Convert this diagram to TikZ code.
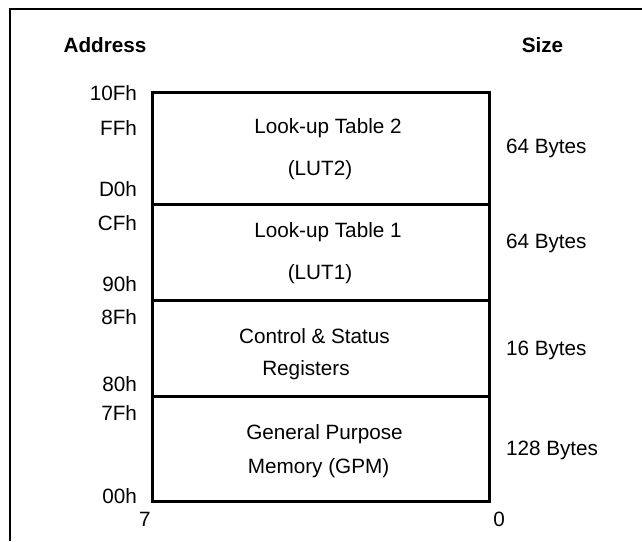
\documentclass[tikz,border=0pt]{standalone}
\usepackage{fontspec}
\setmainfont{Liberation Sans}
\begin{document}
\begin{tikzpicture}[x=1pt,y=-1pt,
  every node/.style={inner sep=0pt, outer sep=0pt, font=\fontsize{20.7}{24}\selectfont},
  region/.style={draw, line width=3pt, minimum width=337pt, anchor=north west},
  head/.style={anchor=base, font=\fontsize{20.7}{24}\selectfont\bfseries},
  addr/.style={anchor=base east},
  size/.style={anchor=base west},
  label/.style={anchor=base},
  frame/.style={line width=2pt}]
\useasboundingbox (0,0) rectangle (642,541);

% open frame round the map
\coordinate (ftr) at (642,9);
\coordinate (ftl) at (10,9);
\coordinate (fbl) at (10,541);
\draw[frame] (ftr) -- (ftl) -- (fbl);

% column headings
\node[head] (haddr) at (105,52) {Address};
\node[head] (hsize) at (542.5,52) {Size};

% memory regions
\node[region, minimum height=112pt] (lut2) at (152,92.5) {};
\node[region, minimum height=96pt]  (lut1) at (152,204.5) {};
\node[region, minimum height=96pt]  (csr)  at (152,300.5) {};
\node[region, minimum height=105pt] (gpm)  at (152,396.5) {};

% region names
\node[label] (t2a) at (328,133) {Look-up Table 2};
\node[label] (t2b) at (320,175) {(LUT2)};
\node[label] (t1a) at (328,237) {Look-up Table 1};
\node[label] (t1b) at (320,279) {(LUT1)};
\node[label] (csa) at (314.5,343) {Control \& Status};
\node[label] (csb) at (306,375) {Registers};
\node[label] (gpa) at (324.5,439) {General Purpose};
\node[label] (gpb) at (318.5,473) {Memory (GPM)};

% addresses
\node[addr] (a10f) at (137,100) {10Fh};
\node[addr] (aff)  at (137,135) {FFh};
\node[addr] (ad0)  at (137,196) {D0h};
\node[addr] (acf)  at (137,230) {CFh};
\node[addr] (a90)  at (137,291) {90h};
\node[addr] (a8f)  at (137,324) {8Fh};
\node[addr] (a80)  at (137,391) {80h};
\node[addr] (a7f)  at (137,420) {7Fh};
\node[addr] (a00)  at (137,503) {00h};

% bit numbers
\node[label] (b7) at (145,526) {7};
\node[label] (b0) at (499,526) {0};

% sizes
\node[size] (s1) at (506,153) {64 Bytes};
\node[size] (s2) at (506,248) {64 Bytes};
\node[size] (s3) at (506,355) {16 Bytes};
\node[size] (s4) at (506,455) {128 Bytes};
\end{tikzpicture}
\end{document}
